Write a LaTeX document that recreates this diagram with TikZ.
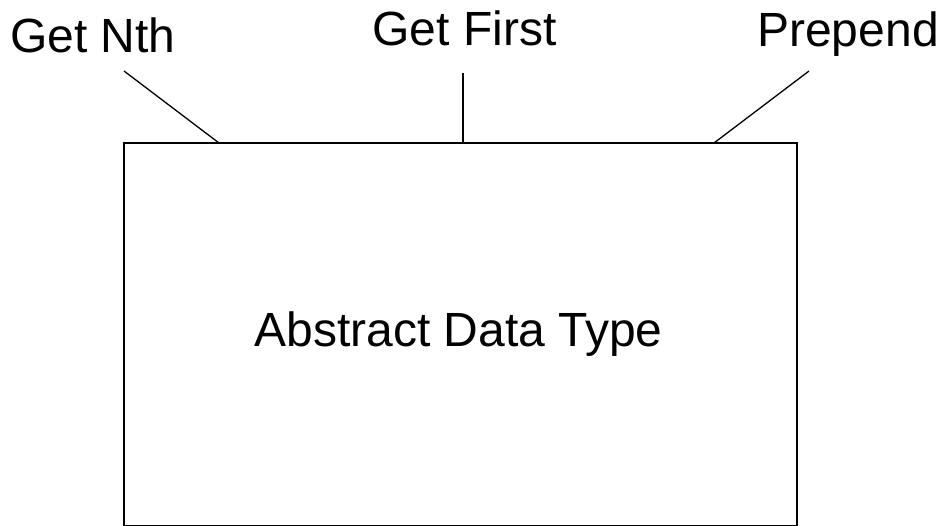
\documentclass[tikz,border=0pt]{standalone}
\usepackage{fontspec}
\setmainfont{Liberation Sans}
\begin{document}
\begin{tikzpicture}[x=1pt,y=-1pt,
  lbl/.style={inner sep=0pt,anchor=base,font=\fontsize{48}{54}\selectfont},
  edge/.style={line width=1.3pt,line cap=butt}]
\useasboundingbox (0,0) rectangle (945,526);
\begin{scope}
\clip (0,0) rectangle (945,526);
\draw[edge] (124,143) rectangle (797,526);
\end{scope}
\coordinate (bn) at (219,143);
\coordinate (bf) at (463,143);
\coordinate (bp) at (714,143);
\coordinate (tn) at (124,71);
\coordinate (tf) at (463,73);
\coordinate (tp) at (809,71);
\node[lbl] (gn) at (93,53) {Get Nth};
\node[lbl] (gf) at (464.5,46) {Get First};
\node[lbl] (pp) at (848,47) {Prepend};
\node[lbl] (adt) at (458.5,347) {Abstract Data Type};
\draw[edge] (tn) -- (bn);
\draw[edge] (tf) -- (bf);
\draw[edge] (tp) -- (bp);
\end{tikzpicture}
\end{document}
